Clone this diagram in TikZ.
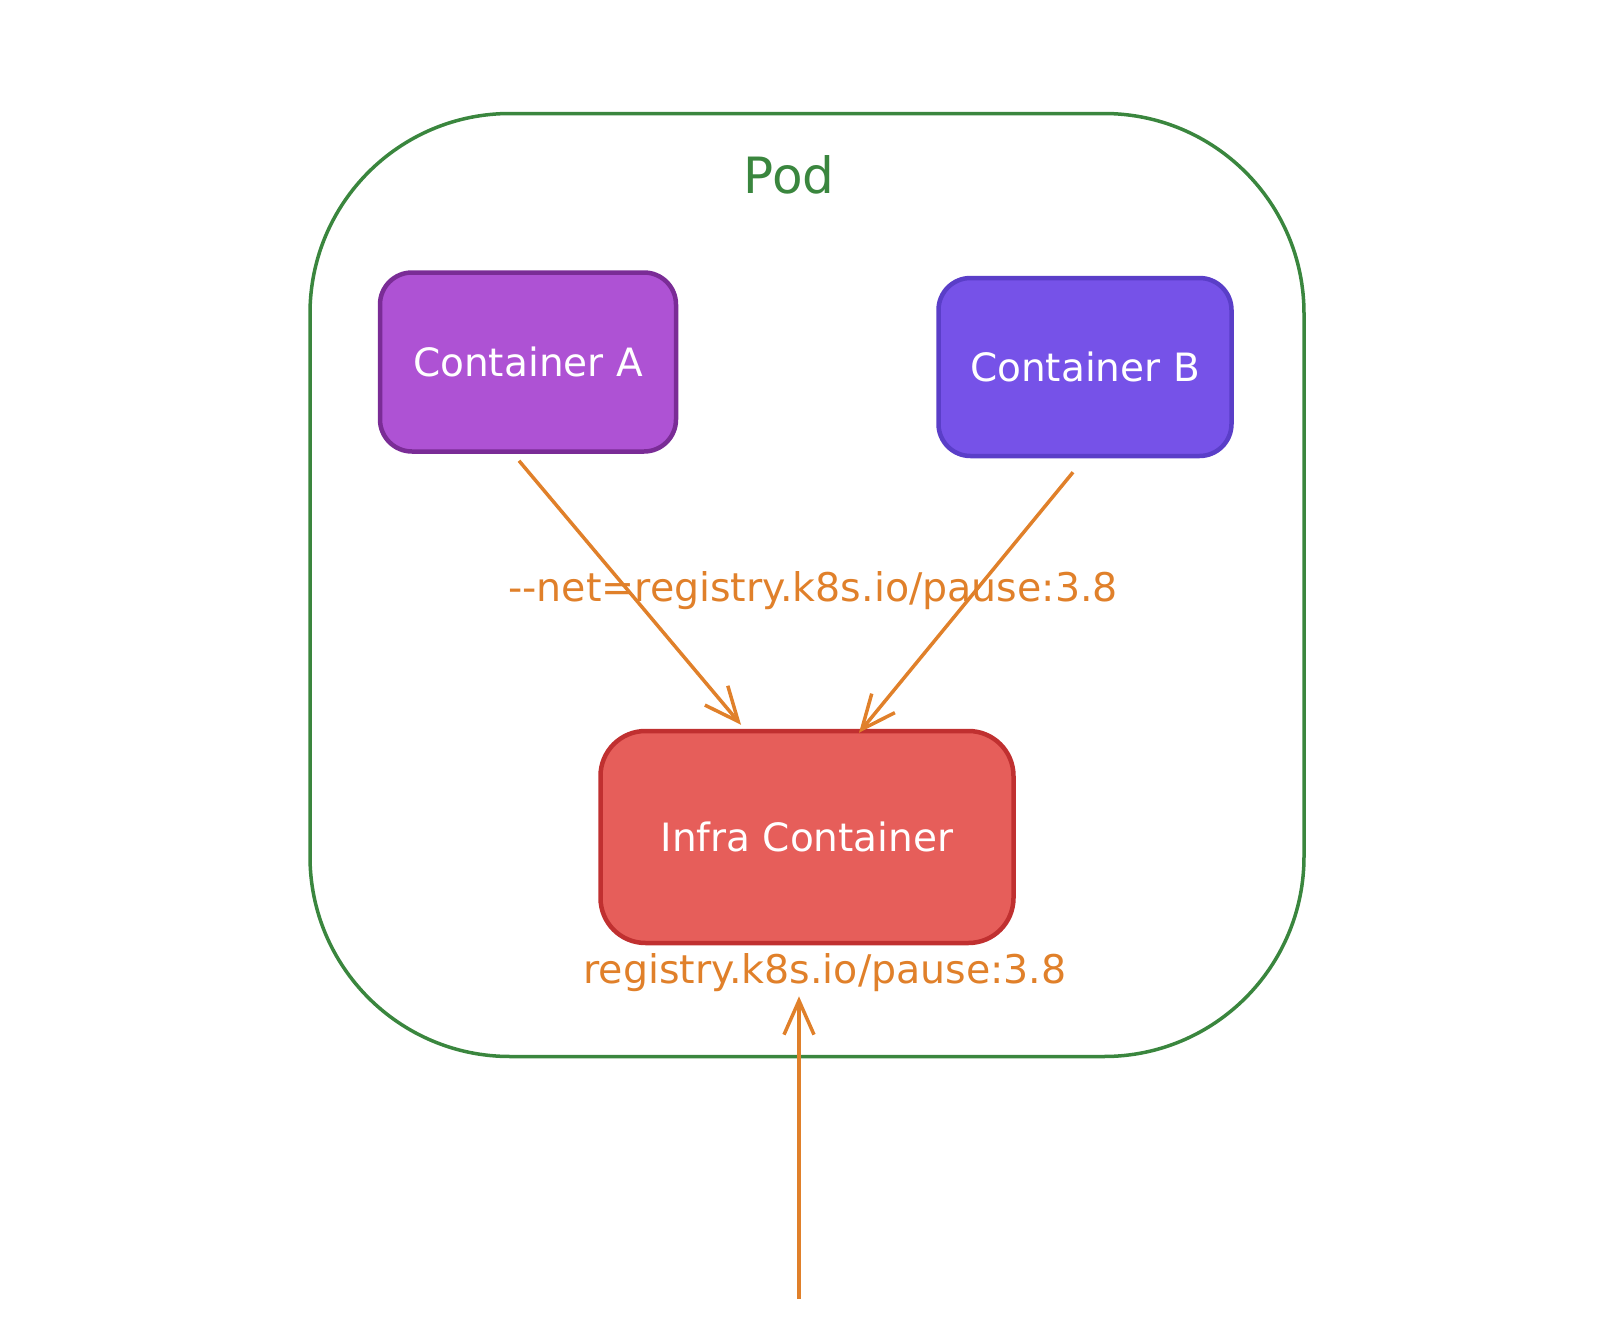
\documentclass[tikz,border=0pt]{standalone}
\usepackage{fontspec}
\usepackage{tikz}
\usetikzlibrary{calc,arrows.meta,positioning}
\usepackage{xcolor}
\newfontfamily\sketchfont{DejaVu Sans}
\definecolor{podColor}{RGB}{58,134,62}
\definecolor{aFill}{RGB}{174,82,212}
\definecolor{aLine}{RGB}{122,44,150}
\definecolor{bFill}{RGB}{118,82,232}
\definecolor{bLine}{RGB}{90,62,200}
\definecolor{infraFill}{RGB}{230,94,90}
\definecolor{infraLine}{RGB}{192,48,48}
\definecolor{arrowColor}{RGB}{224,128,42}
\newcommand{\boxfont}{\sketchfont\fontsize{39}{45}\selectfont}
\newcommand{\podfont}{\sketchfont\fontsize{50}{56}\selectfont}
\newcommand{\tagfont}{\sketchfont\fontsize{39.5}{45}\selectfont}

\begin{document}
\begin{tikzpicture}[x=1pt, y=-1pt,
        pod/.style={draw=podColor, line width=3.5pt, rounded corners=200pt, minimum width=994pt, minimum height=943pt},
        ctr/.style={line width=4.5pt, rounded corners=32pt, text=white, font=\boxfont},
        tag/.style={text=arrowColor, font=\tagfont, inner sep=0pt},
        arr/.style={-{Straight Barb[length=34pt, width=30pt, line width=3.5pt]}, line width=3.5pt, arrowColor}
      ]
      \useasboundingbox (0,0) rectangle (1610,1330);
      \node[pod] (pod) at (807,585) {};
      \node[text=podColor, font=\podfont] (podlabel) at (789,175) {Pod};

      \node[ctr, draw=aLine, fill=aFill, minimum width=296pt, minimum height=179pt] (ctrA) at (528,362) {Container A};
      \node[ctr, draw=bLine, fill=bFill, minimum width=293pt, minimum height=178pt] (ctrB) at (1085,367) {Container B};
      \node[ctr, draw=infraLine, fill=infraFill, rounded corners=45pt, minimum width=413pt, minimum height=212pt] (infra) at (807,837) {Infra Container};

      \node[tag] (netlabel) at (813,591) {-{}-net=registry.k8s.io/pause:3.8};
      \node[tag] (imglabel) at (825,973) {registry.k8s.io/pause:3.8};
      \coordinate (pull) at (799,1299);

      \draw[arr] ($(ctrA.south)+(-9,7)$) -- ($(infra.north)+(-66,-4)$);
      \draw[arr] ($(ctrB.south)+(-12,14)$) -- ($(infra.north)+(52,4)$);
      \draw[arr] (pull) -- ([yshift=-4pt]pull |- imglabel.south);
    \end{tikzpicture}
\end{document}
